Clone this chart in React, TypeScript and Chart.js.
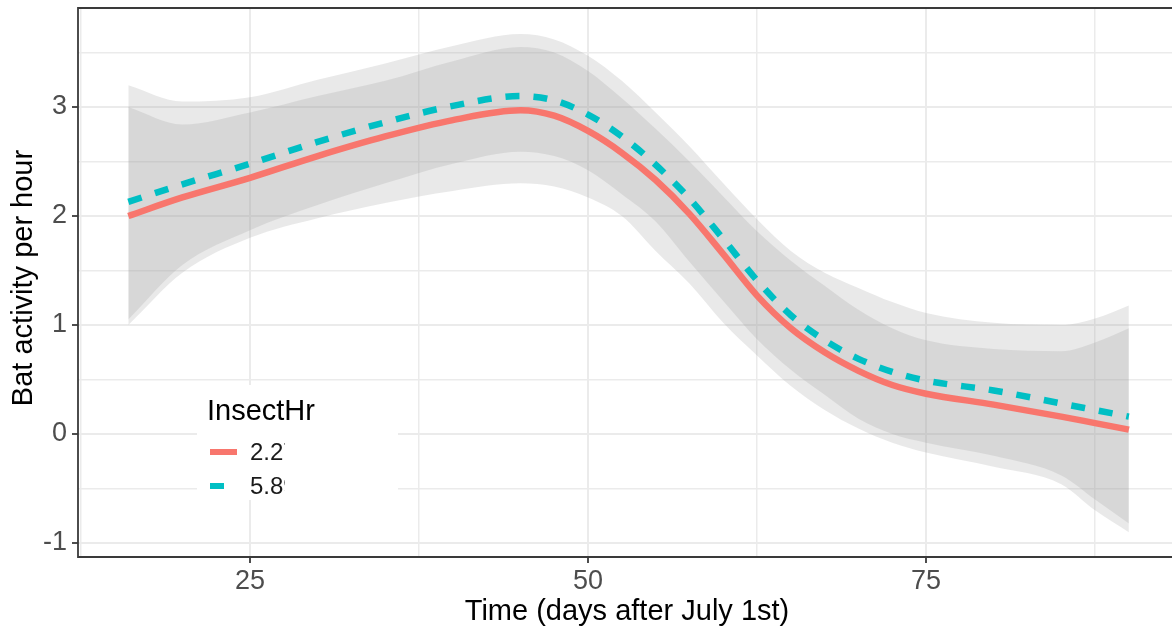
import React, { useEffect, useRef } from "react";
import { Chart, registerables } from "chart.js";

Chart.register(...registerables);

// ---- data ----
const days = [16, 20, 25, 30, 35, 40, 45, 47.5, 50, 52.5, 55, 57.5, 60, 62.5, 65, 67.5, 70, 72.5, 75, 80, 85, 87.5, 90];

const fitLow = [2.0, 2.17, 2.35, 2.55, 2.73, 2.88, 2.97, 2.92, 2.78, 2.58, 2.33, 2.02, 1.65, 1.27, 0.97, 0.75, 0.58, 0.45, 0.37, 0.27, 0.16, 0.1, 0.04];
const fitHigh = [2.13, 2.29, 2.48, 2.68, 2.86, 3.01, 3.1, 3.06, 2.93, 2.73, 2.47, 2.16, 1.79, 1.41, 1.09, 0.86, 0.69, 0.57, 0.49, 0.4, 0.28, 0.22, 0.16];

const lowCiUpper = [3.0, 2.84, 2.95, 3.1, 3.24, 3.42, 3.55, 3.5, 3.33, 3.08, 2.8, 2.5, 2.18, 1.86, 1.59, 1.36, 1.14, 0.97, 0.86, 0.78, 0.76, 0.84, 0.97];
const lowCiLower = [1.0, 1.48, 1.8, 1.98, 2.12, 2.23, 2.3, 2.27, 2.17, 2.0, 1.68, 1.38, 1.02, 0.72, 0.44, 0.22, 0.05, -0.08, -0.17, -0.3, -0.46, -0.7, -0.9];
const highCiUpper = [3.2, 3.05, 3.09, 3.25, 3.4, 3.56, 3.67, 3.62, 3.47, 3.24, 2.95, 2.64, 2.3, 1.97, 1.68, 1.48, 1.34, 1.21, 1.11, 1.02, 1.0, 1.06, 1.18];
const highCiLower = [1.05, 1.55, 1.87, 2.1, 2.3, 2.48, 2.59, 2.55, 2.42, 2.2, 1.95, 1.58, 1.22, 0.87, 0.59, 0.36, 0.14, 0.0, -0.08, -0.2, -0.38, -0.6, -0.82];

const xTicks = [12.5, 25, 37.5, 50, 62.5, 75, 87.5];
const xTickLabels = ["", "25", "", "50", "", "75", ""];
const yTicks = [-1, -0.5, 0, 0.5, 1, 1.5, 2, 2.5, 3, 3.5];
const yTickLabels = ["-1", "", "0", "", "1", "", "2", "", "3", ""];

const legendTitle = "InsectHr";
const legendLabels = ["2.27", "5.89"];
const xTitle = "Time (days after July 1st)";
const yTitle = "Bat activity per hour";

const RED = "#F8766D";
const TEAL = "#00BFC4";
const RIBBON = "rgba(153,153,153,0.21)";
const FONT = "'Liberation Sans', Arial, sans-serif";

const pts = (ys: number[]) => days.map((d, i) => ({ x: d, y: ys[i] }));

export default function App() {
  const ref = useRef<HTMLCanvasElement | null>(null);

  useEffect(() => {
    if (!ref.current) return;

    const decor = {
      id: "decor",
      beforeDraw(chart: any) {
        const ctx = chart.ctx;
        ctx.save();
        ctx.fillStyle = "#ffffff";
        ctx.fillRect(0, 0, chart.width, chart.height);
        ctx.restore();
      },
      afterDatasetsDraw(chart: any) {
        const ctx = chart.ctx;
        const a = chart.chartArea;
        ctx.save();
        // panel border (left, top, bottom)
        ctx.strokeStyle = "#3a3a3a";
        ctx.lineWidth = 1.8;
        ctx.beginPath();
        ctx.moveTo(chart.width + 5, a.top);
        ctx.lineTo(a.left, a.top);
        ctx.lineTo(a.left, a.bottom);
        ctx.lineTo(chart.width + 5, a.bottom);
        ctx.stroke();

        // axis titles
        ctx.fillStyle = "#000000";
        ctx.font = `29px ${FONT}`;
        ctx.textAlign = "center";
        ctx.textBaseline = "middle";
        ctx.fillText(xTitle, (a.left + a.right) / 2 + 2, 612);
        ctx.save();
        ctx.translate(24, 278);
        ctx.rotate(-Math.PI / 2);
        ctx.fillText(yTitle, 0, 0);
        ctx.restore();

        // legend
        ctx.fillStyle = "#ffffff";
        ctx.fillRect(197, 385, 201, 115);
        ctx.fillStyle = "#000000";
        ctx.textAlign = "left";
        ctx.textBaseline = "alphabetic";
        ctx.font = `29px ${FONT}`;
        ctx.fillText(legendTitle, 207, 420);

        ctx.lineWidth = 6;
        ctx.lineCap = "butt";
        ctx.strokeStyle = RED;
        ctx.beginPath();
        ctx.moveTo(210, 452);
        ctx.lineTo(237, 452);
        ctx.stroke();
        ctx.strokeStyle = TEAL;
        ctx.setLineDash([14, 14]);
        ctx.beginPath();
        ctx.moveTo(210, 486);
        ctx.lineTo(237, 486);
        ctx.stroke();
        ctx.setLineDash([]);

        ctx.font = `24px ${FONT}`;
        ctx.textBaseline = "middle";
        ctx.fillStyle = "#1a1a1a";
        ctx.fillText(legendLabels[0], 250, 453);
        ctx.fillText(legendLabels[1], 250, 487);
        // label masking as in the reference
        ctx.fillStyle = "#ffffff";
        ctx.fillRect(285, 436, 113, 60);
        ctx.restore();
      },
    };

    const majorX = (v: number) => v % 25 === 0;
    const majorY = (v: number) => Number.isInteger(v);

    const chart = new Chart(ref.current, {
      type: "line",
      data: {
        datasets: [
          {
            data: pts(fitLow),
            borderColor: RED,
            borderWidth: 6.5,
            pointRadius: 0,
            fill: false,
            cubicInterpolationMode: "monotone",
            borderCapStyle: "butt",
          },
          {
            data: pts(fitHigh),
            borderColor: TEAL,
            borderWidth: 6.5,
            borderDash: [14, 14],
            pointRadius: 0,
            fill: false,
            cubicInterpolationMode: "monotone",
            borderCapStyle: "butt",
          },
          {
            data: pts(lowCiLower),
            borderWidth: 0,
            borderColor: "rgba(0,0,0,0)",
            pointRadius: 0,
            fill: false,
            cubicInterpolationMode: "monotone",
          },
          {
            data: pts(lowCiUpper),
            borderWidth: 0,
            borderColor: "rgba(0,0,0,0)",
            backgroundColor: RIBBON,
            pointRadius: 0,
            fill: 2,
            cubicInterpolationMode: "monotone",
          },
          {
            data: pts(highCiLower),
            borderWidth: 0,
            borderColor: "rgba(0,0,0,0)",
            pointRadius: 0,
            fill: false,
            cubicInterpolationMode: "monotone",
          },
          {
            data: pts(highCiUpper),
            borderWidth: 0,
            borderColor: "rgba(0,0,0,0)",
            backgroundColor: RIBBON,
            pointRadius: 0,
            fill: 4,
            cubicInterpolationMode: "monotone",
          },
        ],
      },
      options: {
        animation: false,
        responsive: false,
        devicePixelRatio: 1,
        layout: { padding: { top: 8, right: 0, left: 0, bottom: 0 } },
        plugins: {
          legend: { display: false },
          tooltip: { enabled: false },
          title: { display: false },
        },
        scales: {
          x: {
            type: "linear",
            min: 12.28,
            max: 93.19,
            afterFit: (s: any) => {
              s.height = 76;
              s.paddingLeft = 0;
              s.paddingRight = 0;
            },
            afterBuildTicks: (s: any) => {
              s.ticks = xTicks.map((v) => ({ value: v }));
            },
            border: { display: false },
            grid: {
              color: "#ebebeb",
              lineWidth: (c: any) => (majorX(c.tick.value) ? 2 : 1.5),
              drawTicks: true,
              tickLength: 6,
              tickWidth: 1.8,
              tickColor: (c: any) => (majorX(c.tick.value) ? "#3a3a3a" : "rgba(0,0,0,0)"),
            },
            ticks: {
              autoSkip: false,
              maxRotation: 0,
              padding: 2,
              color: "#4d4d4d",
              font: { size: 27, family: FONT },
              callback: (v: any) => {
                const i = xTicks.indexOf(Number(v));
                return i >= 0 ? xTickLabels[i] : "";
              },
            },
          },
          y: {
            type: "linear",
            min: -1.128,
            max: 3.908,
            afterFit: (s: any) => {
              s.width = 78;
              s.paddingTop = 0;
              s.paddingBottom = 0;
            },
            afterBuildTicks: (s: any) => {
              s.ticks = yTicks.map((v) => ({ value: v }));
            },
            border: { display: false },
            grid: {
              color: "#ebebeb",
              lineWidth: (c: any) => (majorY(c.tick.value) ? 2 : 1.5),
              drawTicks: true,
              tickLength: 6,
              tickWidth: 1.8,
              tickColor: (c: any) => (majorY(c.tick.value) ? "#3a3a3a" : "rgba(0,0,0,0)"),
            },
            ticks: {
              autoSkip: false,
              padding: 5,
              color: "#4d4d4d",
              font: { size: 27, family: FONT },
              callback: (v: any) => {
                const i = yTicks.indexOf(Number(v));
                return i >= 0 ? yTickLabels[i] : "";
              },
            },
          },
        },
      },
      plugins: [decor],
    } as any);

    return () => chart.destroy();
  }, []);

  return (
    <div style={{ position: "fixed", left: 0, top: 0, width: 1172, height: 633, background: "#fff" }}>
      <canvas ref={ref} width={1172} height={633} style={{ display: "block", width: 1172, height: 633 }} />
    </div>
  );
}
